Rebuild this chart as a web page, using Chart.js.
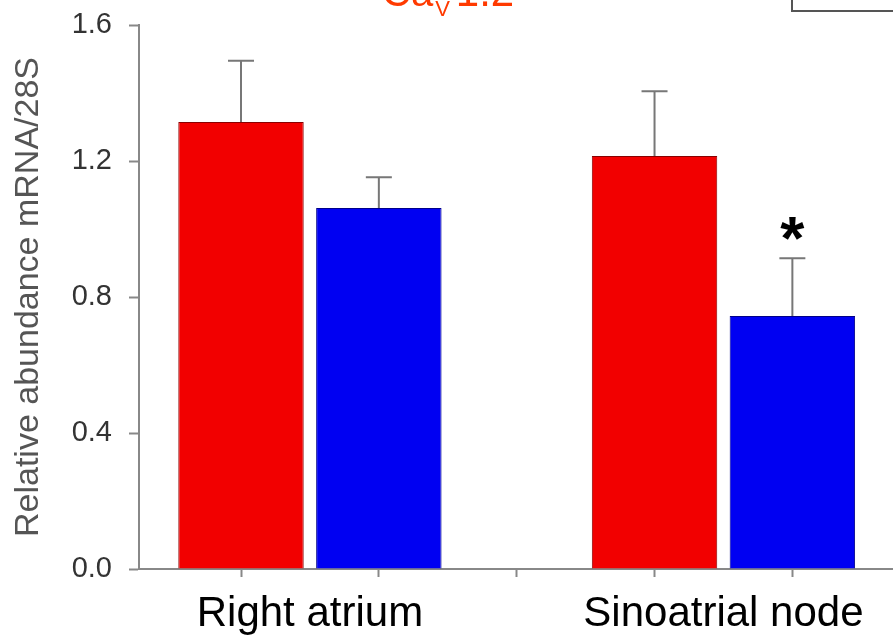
<!DOCTYPE html>
<html>
<head>
<meta charset="utf-8">
<script src="https://cdn.jsdelivr.net/npm/chart.js@4/dist/chart.umd.min.js"></script>
<style>
  body { margin: 0; background: #fff; }
  #wrap { width: 893px; height: 640px; position: relative; }
</style>
</head>
<body>
<div id="wrap"><canvas id="myChart"></canvas></div>
<script>
const categories = ['Right atrium', 'Sinoatrial node']
const redValues = [1.315, 1.215]
const redErrors = [0.18, 0.19]
const blueValues = [1.062, 0.744]
const blueErrors = [0.09, 0.17]
const blueStars = [false, true]
const yTicks = [0, 0.4, 0.8, 1.2, 1.6]

// each category takes 3 slots on the x axis: red, blue, then an empty gap
const redX = categories.map((c, i) => i * 3 + 1)
const blueX = categories.map((c, i) => i * 3 + 2)
const labelX = categories.map((c, i) => i * 3 + 1.5)
const tickX = [1, 2, 3, 4, 5]
const xMin = 0.26
const xMax = 5.73

Chart.defaults.font.family = '"Liberation Sans", Arial, sans-serif'

const errorBars = {
  id: 'errorBars',
  afterDatasetsDraw(chart) {
    const ctx = chart.ctx
    const y = chart.scales.y
    chart.data.datasets.forEach((ds, di) => {
      const meta = chart.getDatasetMeta(di)
      meta.data.forEach((bar, i) => {
        const top = y.getPixelForValue(ds.data[i].y + ds.errors[i])
        ctx.save()
        ctx.strokeStyle = '#777'
        ctx.lineWidth = 2
        ctx.beginPath()
        ctx.moveTo(bar.x, bar.y)
        ctx.lineTo(bar.x, top)
        ctx.moveTo(bar.x - 13, top)
        ctx.lineTo(bar.x + 13, top)
        ctx.stroke()
        if (ds.stars && ds.stars[i]) {
          ctx.fillStyle = '#000'
          ctx.font = 'bold 62px "Liberation Sans", Arial, sans-serif'
          ctx.textAlign = 'center'
          ctx.textBaseline = 'alphabetic'
          const m = ctx.measureText('*')
          const center = top - 30
          ctx.fillText('*', bar.x, center + (m.actualBoundingBoxAscent - m.actualBoundingBoxDescent) / 2)
        }
        ctx.restore()
      })
    })
  }
}

// title and legend frame sit mostly above the visible area, like the cropped original
const topDecor = {
  id: 'topDecor',
  afterDraw(chart) {
    const ctx = chart.ctx
    const left = chart.chartArea.left
    ctx.save()
    ctx.fillStyle = '#ff3a00'
    ctx.textBaseline = 'alphabetic'
    ctx.textAlign = 'left'
    let x = left + 243
    ctx.font = '40px "Liberation Sans", Arial, sans-serif'
    ctx.fillText('Ca', x, 6)
    x += ctx.measureText('Ca').width + 2
    ctx.font = '22px "Liberation Sans", Arial, sans-serif'
    ctx.fillText('V', x, 16)
    x += ctx.measureText('V').width + 6
    ctx.font = '42px "Liberation Sans", Arial, sans-serif'
    ctx.fillText('1.2', x, 6)

    ctx.strokeStyle = '#555'
    ctx.lineWidth = 2
    ctx.strokeRect(792, -80, 200, 91)
    ctx.restore()
  }
}

new Chart('myChart', {
  type: 'bar',
  data: {
    datasets: [{
      label: 'red',
      data: redX.map((x, i) => ({ x: x, y: redValues[i] })),
      errors: redErrors,
      backgroundColor: '#f20000',
      borderColor: '#8a0000',
      borderWidth: 1
    }, {
      label: 'blue',
      data: blueX.map((x, i) => ({ x: x, y: blueValues[i] })),
      errors: blueErrors,
      stars: blueStars,
      backgroundColor: '#0000f2',
      borderColor: '#00008a',
      borderWidth: 1
    }]
  },
  options: {
    responsive: true,
    maintainAspectRatio: false,
    animation: false,
    grouped: false,
    barPercentage: 0.91,
    categoryPercentage: 1,
    layout: { padding: { top: 25, right: 0, bottom: 0, left: 0 } },
    plugins: {
      legend: { display: false },
      tooltip: { enabled: false }
    },
    scales: {
      x: {
        type: 'linear',
        min: xMin,
        max: xMax,
        offset: false,
        afterBuildTicks: s => { s.ticks = tickX.map(v => ({ value: v })) },
        afterFit: s => { s.height = 9 },
        ticks: { autoSkip: false, maxRotation: 0, callback: () => '' },
        grid: {
          offset: false,
          drawOnChartArea: false,
          tickLength: 8,
          tickWidth: 2,
          tickColor: '#888'
        },
        border: { color: '#888', width: 2 }
      },
      xLabels: {
        type: 'linear',
        position: 'bottom',
        min: xMin,
        max: xMax,
        offset: false,
        afterBuildTicks: s => { s.ticks = labelX.map(v => ({ value: v })) },
        afterFit: s => { s.height = 62 },
        ticks: {
          autoSkip: false,
          maxRotation: 0,
          color: '#000',
          font: { size: 42 },
          padding: 11,
          callback: v => categories[labelX.indexOf(v)]
        },
        grid: { display: false, drawTicks: false },
        border: { display: false }
      },
      y: {
        min: 0,
        max: 1.6,
        afterBuildTicks: s => { s.ticks = yTicks.map(v => ({ value: v })) },
        afterFit: s => {
          s.width = 139
          s.paddingTop = 0
          s.paddingBottom = 0
        },
        ticks: {
          color: '#333',
          font: { size: 29 },
          padding: 17,
          callback: v => v.toFixed(1)
        },
        grid: {
          drawOnChartArea: false,
          tickLength: 10,
          tickWidth: 2,
          tickColor: '#888'
        },
        border: { color: '#888', width: 2 },
        title: {
          display: true,
          text: 'Relative abundance mRNA/28S',
          color: '#555',
          font: { size: 34 },
          padding: { top: 8, bottom: 0 }
        }
      }
    }
  },
  plugins: [errorBars, topDecor]
})
</script>
</body>
</html>
